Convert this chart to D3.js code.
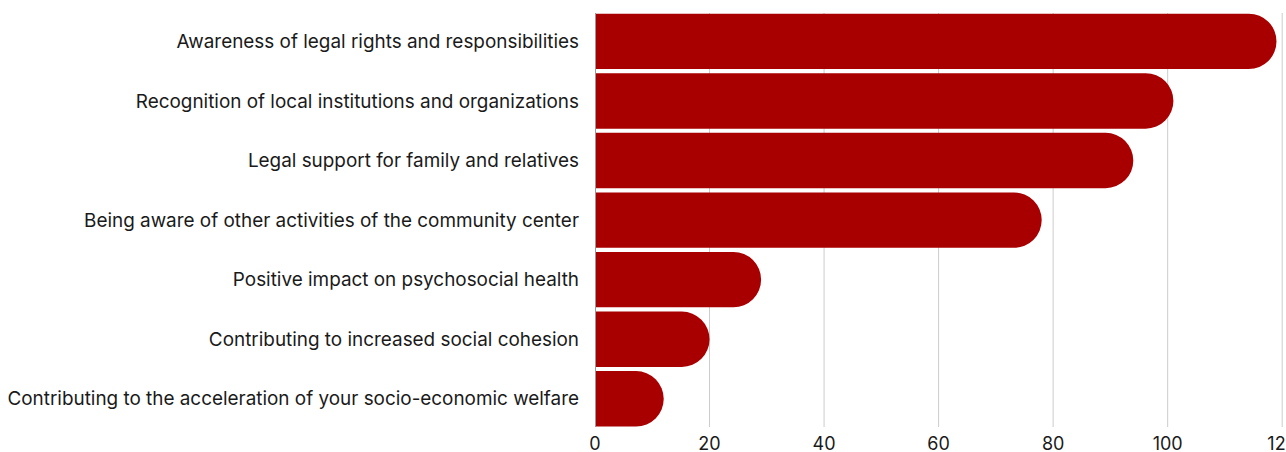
<!DOCTYPE html>
<html>
<head>
<meta charset="utf-8">
<script src="https://cdn.jsdelivr.net/npm/d3@7"></script>
<style>
  html, body { margin: 0; padding: 0; background: #fff; }
  svg { display: block; }
  text { font-family: Inter, "Noto Sans", sans-serif; fill: #1a1a1a; }
</style>
</head>
<body>
<div id="chart"></div>
<script>
// Reported benefits, number of respondents
const categories = [
  "Awareness of legal rights and responsibilities",
  "Recognition of local institutions and organizations",
  "Legal support for family and relatives",
  "Being aware of other activities of the community center",
  "Positive impact on psychosocial health",
  "Contributing to increased social cohesion",
  "Contributing to the acceleration of your socio-economic welfare"
];
const values = [119, 101, 94, 78, 29, 20, 12];
const tickValues = [0, 20, 40, 60, 80, 100, 120];

const width = 1286, height = 452;
const x0 = 595, x120 = 1282.2;

const svg = d3.select("#chart").append("svg")
  .attr("width", width).attr("height", height);

const x = d3.scaleLinear().domain([0, 120]).range([x0, x120]);
const y = d3.scaleBand().domain(categories).range([11.6, 428.6]).paddingInner(0.07).paddingOuter(0.035);

const plotTop = 13, plotBottom = 427;

// vertical gridlines
svg.append("g").selectAll("line")
  .data(tickValues.filter(d => d > 0))
  .join("line")
  .attr("x1", d => x(d)).attr("x2", d => x(d))
  .attr("y1", plotTop).attr("y2", plotBottom)
  .attr("stroke", "#cccccc").attr("stroke-width", 1);

// bars: square at the baseline, fully rounded at the value end
const bh = y.bandwidth();
svg.append("g").selectAll("path")
  .data(values)
  .join("path")
  .attr("fill", "#a80000")
  .attr("d", (d, i) => {
    const top = y(categories[i]);
    const r = bh / 2;
    const xr = x(d);
    const p = d3.path();
    p.moveTo(x0, top);
    p.lineTo(xr - r, top);
    p.arc(xr - r, top + r, r, -Math.PI / 2, Math.PI / 2);
    p.lineTo(x0, top + bh);
    p.closePath();
    return p.toString();
  });

// baseline
svg.append("line")
  .attr("x1", x0 + 0.5).attr("x2", x0 + 0.5)
  .attr("y1", plotTop).attr("y2", plotBottom)
  .attr("stroke", "#999999").attr("stroke-width", 1);

// category labels
const labels = svg.append("g").selectAll("text")
  .data(categories)
  .join("text")
  .attr("x", 579)
  .attr("y", d => y(d) + bh / 2)
  .attr("dy", "0.35em")
  .attr("text-anchor", "end")
  .attr("font-size", 17)
  .text(d => d);

// size the labels so the longest one spans the left margin
const longest = d3.max(labels.nodes(), n => n.getComputedTextLength());
const labelSize = 17 * 572 / longest;
labels.attr("font-size", labelSize);

// axis tick labels
svg.append("g").selectAll("text")
  .data(tickValues)
  .join("text")
  .attr("x", d => x(d))
  .attr("y", 444)
  .attr("dy", "0.35em")
  .attr("text-anchor", "middle")
  .attr("font-size", 18)
  .text(d => d);
</script>
</body>
</html>
